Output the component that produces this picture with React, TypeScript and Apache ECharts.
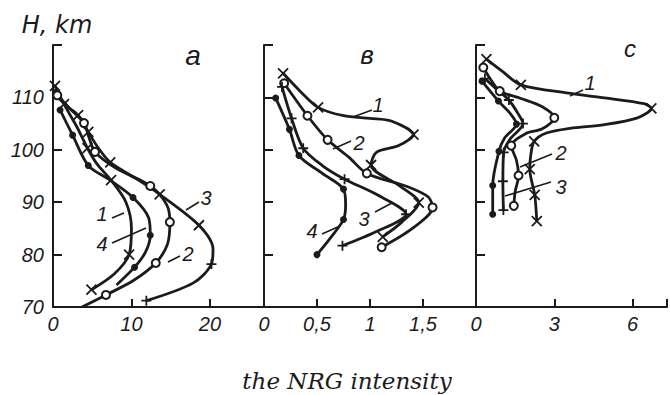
import React, { useEffect, useRef } from "react";
import * as echarts from "echarts";

// ---- Data. Each point: [intensity, height km, marker]
// marker: "x" cross, "o" open circle, "+" plus, "*" filled dot, "" none
const HEIGHT_MIN = 70;
const HEIGHT_MAX = 120;
const HEIGHT_STEP = 10;

const PANEL_LABELS = ["a", "в", "c"];
const X_MAX = [26.9, 2.0, 7.32];
const X_STEP = [10, 0.5, 3];
const X_LABEL_LIMIT = [20, 1.5, 6];

type P = [number, number, string];

const A1: P[] = [
  [0.25, 112.2, "x"], [1.4, 108.7, "x"], [3.0, 104.5, ""], [4.4, 100.3, "x"],
  [5.6, 97.3, ""], [7.4, 94.2, "x"], [9.3, 90, ""], [10.0, 85, ""],
  [9.7, 80, "x"], [7.8, 76.3, ""], [4.9, 73.3, "x"],
];
const A2: P[] = [
  [0.55, 110.4, "o"], [2.2, 107.8, ""], [3.95, 105.1, "o"], [4.6, 102.3, ""],
  [5.35, 99.6, "o"], [8.0, 96.5, ""], [12.4, 93.1, "o"], [14.5, 89.5, ""],
  [14.9, 86.2, "o"], [14.6, 82, ""], [13.1, 78.4, "o"], [10.2, 75, ""],
  [6.75, 72.3, "o"], [3.7, 70, ""],
];
const A3: P[] = [
  [0.1, 111.5, ""], [1.8, 108.3, ""], [3.2, 106.6, "x"], [4.5, 103.4, "x"],
  [5.8, 100.3, ""], [7.3, 97.6, "x"], [10.5, 94.6, ""], [13.6, 91.5, "x"],
  [18.6, 85.6, "x"], [20.4, 81, ""], [20.2, 78.2, "+"], [17.9, 74.6, ""],
  [11.9, 71.2, "+"],
];
const A4: P[] = [
  [0.9, 107.6, "*"], [2.5, 102.8, "*"], [4.5, 97, "*"], [7.2, 94.3, ""],
  [10.2, 90.9, "*"], [12.2, 87, ""], [12.4, 83.7, "*"], [11.8, 80.5, ""],
  [10.4, 77.6, "*"], [8.1, 74.2, ""],
];

const B1: P[] = [
  [0.18, 114.6, "x"], [0.35, 111, ""], [0.51, 108.1, "x"], [0.75, 106.5, ""],
  [1.0, 106, ""], [1.2, 105.5, ""], [1.41, 102.9, "x"], [1.27, 100.8, ""],
  [1.06, 99.5, ""], [1.01, 97.1, "x"], [1.28, 93.1, ""], [1.46, 89.9, "x"],
  [1.3, 86.2, ""], [1.12, 83.4, "x"],
];
const B2: P[] = [
  [0.19, 112.7, "o"], [0.41, 106.5, "o"], [0.6, 101.9, "o"], [0.8, 98.6, ""],
  [0.97, 95.5, "o"], [1.35, 93, ""], [1.55, 91, ""], [1.59, 89, "o"],
  [1.4, 85, ""], [1.11, 81.4, "o"],
];
const B3: P[] = [
  [0.17, 112, "+"], [0.26, 106, "+"], [0.37, 100.3, "+"], [0.55, 97, ""],
  [0.76, 94.4, "+"], [1.06, 91.5, ""], [1.34, 87.7, "+"], [1.05, 84.3, ""],
  [0.74, 81.7, "+"],
];
const B4: P[] = [
  [0.11, 109.9, "*"], [0.24, 103.9, "*"], [0.33, 98.9, "*"], [0.55, 95.5, ""],
  [0.75, 92.5, "*"], [0.77, 89.5, ""], [0.75, 86.7, "*"], [0.62, 83, ""],
  [0.5, 80, "*"],
];

const C1: P[] = [
  [0.4, 117.3, "x"], [1.0, 115, ""], [1.72, 112.4, "x"], [3.55, 110.8, ""],
  [4.93, 109.9, ""], [6.44, 108.8, ""], [6.72, 107.9, "x"], [6.19, 106.1, ""],
  [4.93, 104.8, ""], [3.6, 104.1, ""], [2.7, 103.2, ""], [2.23, 101.6, "x"],
  [2.1, 99, ""], [2.06, 96.3, "x"], [2.25, 91.4, "x"], [2.33, 86.4, "x"],
];
const C2: P[] = [
  [0.28, 115.7, "o"], [0.55, 113.5, ""], [0.91, 111.2, "o"], [1.72, 109.8, ""],
  [2.54, 108.2, ""], [3.0, 106.1, "o"], [2.54, 104, ""], [1.91, 103.1, ""],
  [1.35, 100.8, "o"], [1.55, 98, ""], [1.63, 95.1, "o"], [1.5, 92, ""],
  [1.45, 89.3, "o"],
];
const C3: P[] = [
  [0.34, 113.6, "+"], [0.8, 111.5, ""], [1.26, 109.5, "+"], [1.6, 107, ""],
  [1.8, 105, "+"], [1.3, 102, ""], [1.06, 99.5, "+"], [1.03, 94, "+"],
  [1.05, 88.5, "+"],
];
const C4: P[] = [
  [0.23, 113.1, "*"], [0.86, 109.3, "*"], [1.3, 107, ""], [1.55, 104.9, "*"],
  [1.1, 102.3, ""], [0.88, 99.7, "*"], [0.64, 93.2, "*"], [0.64, 87.7, "*"],
];

const PANELS: P[][][] = [
  [A1, A2, A3, A4],
  [B1, B2, B3, B4],
  [C1, C2, C3, C4],
];

const INK = "#1b1b1b";
const SANS = "'Liberation Sans Narrow', 'Liberation Sans', sans-serif";

const SYM: Record<string, string> = {
  x: "path://M0,0L10,10M10,0L0,10",
  "+": "path://M5,0L5,10M0,5L10,5",
  o: "emptyCircle",
  "*": "circle",
};

function itemFor(p: P) {
  const m = p[2];
  if (!m) return { value: [p[0], p[1]], symbol: "none" };
  if (m === "x" || m === "+") {
    return {
      value: [p[0], p[1]],
      symbol: SYM[m],
      symbolSize: 10,
      itemStyle: { color: INK, borderColor: INK, borderWidth: 1.8 },
    };
  }
  if (m === "o") {
    return {
      value: [p[0], p[1]],
      symbol: SYM[m],
      symbolSize: 8,
      itemStyle: { color: INK, borderColor: INK, borderWidth: 1.6 },
    };
  }
  return {
    value: [p[0], p[1]],
    symbol: SYM[m],
    symbolSize: 7,
    itemStyle: { color: INK },
  };
}

const fmtNum = (v: number) => String(v).replace(".", ",");

export default function App() {
  const ref = useRef<HTMLDivElement>(null);
  useEffect(() => {
    if (!ref.current) return;
    const chart = echarts.init(ref.current, null, { renderer: "svg" });
    const grids = [
      { left: 53, top: 45, width: 211, height: 262 },
      { left: 264, top: 45, width: 212, height: 262 },
      { left: 476, top: 45, width: 194, height: 262 },
    ];
    const xAxes = grids.map((_, i) => ({
      type: "value",
      gridIndex: i,
      min: 0,
      max: X_MAX[i],
      interval: X_STEP[i],
      axisLine: { onZero: false, lineStyle: { color: INK, width: 2 } },
      axisTick: { inside: true, length: 8, lineStyle: { color: INK, width: 2 } },
      splitLine: { show: false },
      axisLabel: {
        color: INK,
        fontFamily: SANS,
        fontStyle: "italic",
        fontSize: 20,
        margin: 7,
        formatter: (v: number) =>
          v <= X_LABEL_LIMIT[i] + 1e-9 && Math.abs(v / X_STEP[i] - Math.round(v / X_STEP[i])) < 1e-6
            ? fmtNum(v)
            : "",
      },
    }));
    const yAxes = grids.map((_, i) => ({
      type: "value",
      gridIndex: i,
      min: HEIGHT_MIN,
      max: HEIGHT_MAX,
      interval: HEIGHT_STEP,
      axisLine: { onZero: false, lineStyle: { color: INK, width: 2 } },
      axisTick: { inside: true, length: 9, lineStyle: { color: INK, width: 2 } },
      splitLine: { show: false },
      axisLabel: {
        show: i === 0,
        color: INK,
        fontFamily: SANS,
        fontStyle: "italic",
        fontSize: 20,
        margin: 9,
        formatter: (v: number) => (v >= HEIGHT_MAX ? "" : String(v)),
      },
    }));
    const series: any[] = [];
    PANELS.forEach((curves, gi) => {
      curves.forEach((pts) => {
        series.push({
          type: "line",
          xAxisIndex: gi,
          yAxisIndex: gi,
          smooth: 0.3,
          clip: false,
          silent: true,
          lineStyle: { color: INK, width: 2.8 },
          data: pts.map(itemFor),
        });
      });
    });

    const txt = (text: string, x: number, y: number, size: number, family = SANS) => ({
      type: "text",
      x,
      y,
      silent: true,
      style: {
        text,
        fill: INK,
        font: `italic ${size}px ${family}`,
        textAlign: "center",
        textVerticalAlign: "middle",
      },
    });
    const seg = (x1: number, y1: number, x2: number, y2: number) => ({
      type: "line",
      silent: true,
      shape: { x1, y1, x2, y2 },
      style: { stroke: INK, lineWidth: 1.6 },
    });

    const graphic = [
      txt("H, km", 57, 25, 24, "'DejaVu Sans', sans-serif"),
      txt(PANEL_LABELS[0], 193, 55, 28),
      txt(PANEL_LABELS[1], 367, 55, 26),
      txt(PANEL_LABELS[2], 630, 48, 24),
      // panel a curve labels
      txt("1", 102, 214, 20), seg(112, 218, 124, 213),
      txt("4", 102, 244, 20), seg(112, 243, 146, 228),
      txt("2", 188, 254, 20), seg(168, 262, 180, 256),
      txt("3", 206, 198, 20), seg(186, 210, 199, 202),
      // panel b
      txt("1", 378, 105, 20), seg(353, 117, 372, 110),
      txt("2", 359, 143, 20), seg(333, 149, 351, 141),
      txt("3", 364, 219, 20), seg(375, 212, 392, 203),
      txt("4", 312, 231, 20), seg(322, 234, 340, 226),
      // panel c
      txt("1", 590, 83, 20), seg(570, 96, 583, 90),
      txt("2", 561, 153, 20), seg(520, 167, 552, 154),
      txt("3", 561, 187, 20), seg(505, 196, 551, 182),
      // axis title
      txt("the NRG intensity", 347, 381, 23, "'DejaVu Serif', serif"),
    ];

    chart.setOption({
      animation: false,
      backgroundColor: "#ffffff",
      grid: grids,
      xAxis: xAxes,
      yAxis: yAxes,
      series,
      graphic,
    });
    return () => chart.dispose();
  }, []);
  return (
    <div
      ref={ref}
      style={{ position: "fixed", left: 0, top: 0, width: 670, height: 395, background: "#fff" }}
    />
  );
}
